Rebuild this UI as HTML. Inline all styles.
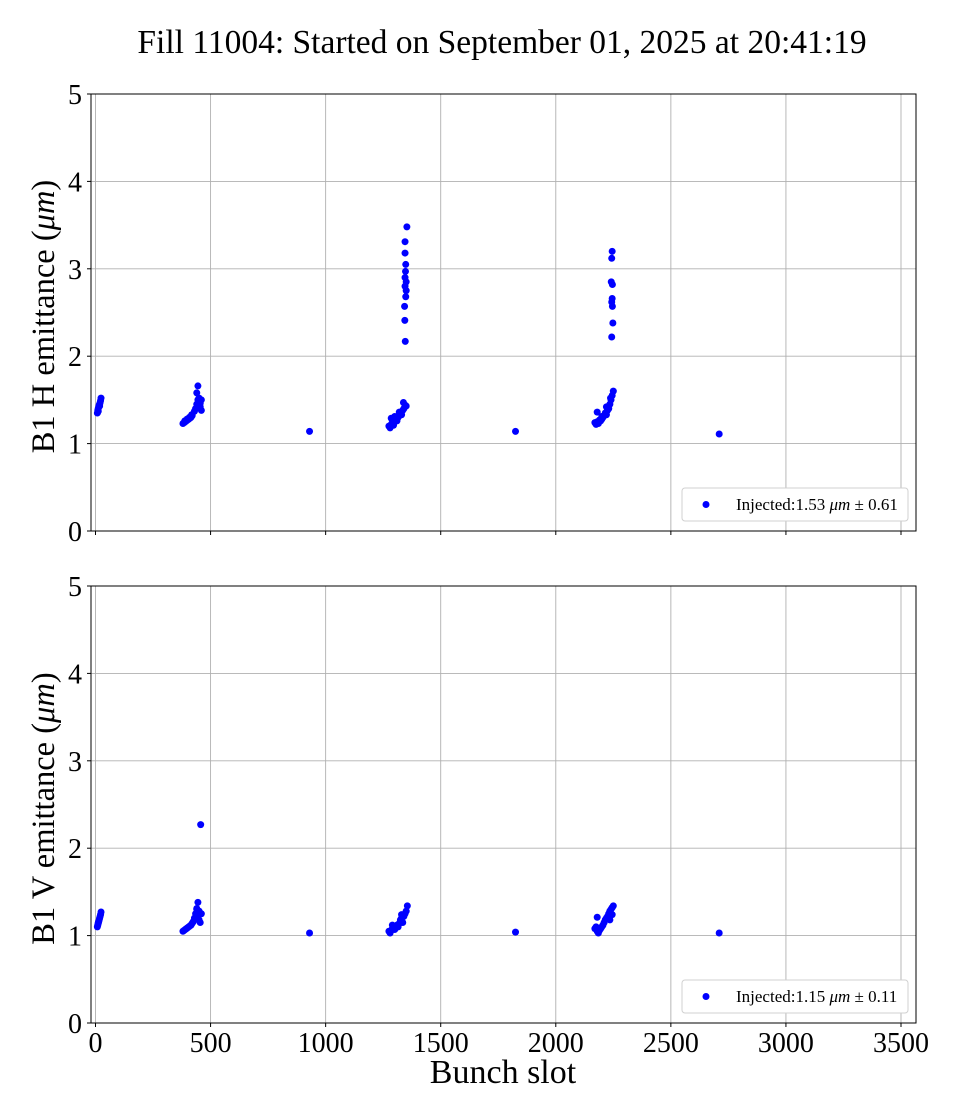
<!DOCTYPE html>
<html><head><meta charset="utf-8"><style>
body{margin:0;background:#fff}
svg{display:block;font-family:"Liberation Serif",serif}
</style></head><body>
<svg id="chart" width="960" height="1120" xmlns="http://www.w3.org/2000/svg">
<text x="502" y="53" font-size="33.5" text-anchor="middle">Fill 11004: Started on September 01, 2025 at 20:41:19</text>
<g id="p1"></g>
<g id="p2"></g>
<text x="503" y="1083" font-size="34" text-anchor="middle">Bunch slot</text>
</svg>
<script>
const xTicks=[0,500,1000,1500,2000,2500,3000,3500];
const yTicks=[0,1,2,3,4,5];
const hSlots=[8,10,12,14,16,18,20,22,24,12,18,
380,385,390,395,400,405,410,415,420,388,398,408,418,430,435,440,445,450,455,460,440,445,450,455,460,
930,
1275,1280,1285,1290,1295,1300,1305,1310,1315,1320,1325,1330,1335,1340,1345,1350,1285,1300,1320,1338,
1353,1345,1345,1348,1347,1345,1350,1345,1350,1348,1343,1344,1346,
1825,
2170,2175,2180,2185,2190,2195,2200,2205,2210,2215,2220,2225,2230,2235,2240,2245,2250,2180,2200,2220,2238,
2245,2243,2241,2246,2245,2243,2246,2248,2243,
2710];
const hVals=[1.35,1.38,1.40,1.42,1.44,1.45,1.47,1.49,1.52,1.37,1.43,
1.23,1.24,1.25,1.26,1.27,1.28,1.29,1.30,1.32,1.26,1.28,1.30,1.33,1.37,1.40,1.45,1.50,1.48,1.42,1.38,1.58,1.66,1.52,1.46,1.50,
1.14,
1.20,1.18,1.22,1.24,1.21,1.25,1.27,1.26,1.30,1.32,1.35,1.33,1.38,1.40,1.44,1.43,1.29,1.31,1.36,1.47,
3.48,3.31,3.18,3.05,2.97,2.90,2.85,2.80,2.75,2.68,2.57,2.41,2.17,
1.14,
1.24,1.22,1.25,1.23,1.27,1.26,1.28,1.30,1.32,1.35,1.33,1.38,1.40,1.45,1.50,1.55,1.60,1.36,1.31,1.42,1.52,
3.20,3.12,2.85,2.82,2.66,2.62,2.57,2.38,2.22,
1.11];
const vSlots=[8,10,12,14,16,18,20,22,24,12,
380,385,390,395,400,405,410,415,420,425,430,435,440,445,450,455,460,440,445,450,457,
930,
1275,1280,1285,1290,1295,1300,1305,1310,1315,1320,1325,1330,1335,1340,1345,1350,1355,1290,1330,
1825,
2170,2175,2180,2185,2190,2195,2200,2205,2210,2215,2220,2225,2230,2235,2240,2245,2250,2180,2235,2245,
2710];
const vVals=[1.10,1.12,1.14,1.16,1.18,1.20,1.22,1.24,1.27,1.15,
1.05,1.06,1.07,1.08,1.09,1.10,1.11,1.12,1.14,1.16,1.20,1.25,1.30,1.22,1.18,1.15,1.25,1.31,1.38,1.28,2.27,
1.03,
1.05,1.03,1.06,1.08,1.10,1.07,1.09,1.12,1.10,1.14,1.18,1.20,1.15,1.22,1.25,1.28,1.34,1.12,1.24,
1.04,
1.08,1.10,1.05,1.03,1.06,1.08,1.10,1.12,1.15,1.18,1.20,1.22,1.25,1.28,1.30,1.32,1.34,1.21,1.18,1.24,
1.03];
const NS="http://www.w3.org/2000/svg";
function mk(p,tag,at){const e=document.createElementNS(NS,tag);for(const k in at)e.setAttribute(k,at[k]);p.appendChild(e);return e;}
const L=91,R=916;
const xs=v=>95.5+v*(901-95.5)/3500;
function panel(g,top,bot,slots,vals,ylab,leg,showX){
  const ys=v=>bot-v*(bot-top)/5;
  xTicks.forEach(t=>{
    const l=mk(g,'line',{x1:xs(t),x2:xs(t),y1:top,y2:bot,stroke:'#b0b0b0','stroke-width':0.9});
    
    
    mk(g,'line',{x1:xs(t),x2:xs(t),y1:bot,y2:bot+4,stroke:'#000','stroke-width':1});
    if(showX){const tx=mk(g,'text',{x:xs(t),y:bot+29,'font-size':28,'text-anchor':'middle'});tx.textContent=t;
      
      }
  });
  yTicks.forEach(t=>{
    const l=mk(g,'line',{x1:L,x2:R,y1:ys(t),y2:ys(t),stroke:'#b0b0b0','stroke-width':0.9});
    
    
    mk(g,'line',{x1:L-4,x2:L,y1:ys(t),y2:ys(t),stroke:'#000','stroke-width':1});
    const tx=mk(g,'text',{x:L-9,y:ys(t)+10,'font-size':28,'text-anchor':'end'});tx.textContent=t;
    
    
  });
  const fr=mk(g,'rect',{x:L,y:top,width:R-L,height:bot-top,fill:'none',stroke:'#000','stroke-width':1});
  
  
  slots.forEach((s,i)=>{
    const c=mk(g,'circle',{cx:xs(s),cy:ys(vals[i]),r:3.5,fill:'#0000ff'});
    
    
  });
  const yl=mk(g,'text',{x:0,y:0,'font-size':32.5,'text-anchor':'middle',transform:`translate(54,${(top+bot)/2+4}) rotate(-90)`});
  yl.innerHTML=ylab;
  
  
  const lg=mk(g,'g',{});
  
  
  mk(lg,'rect',{x:682,y:bot-43,width:226,height:33,rx:3,fill:'#fff',stroke:'#d0d0d0'});
  mk(lg,'circle',{cx:706,cy:bot-26.5,r:3.5,fill:'#0000ff'});
  const lt=mk(lg,'text',{x:736,y:bot-21,'font-size':17});
  lt.innerHTML=leg;
}
panel(document.getElementById('p1'),94,531,hSlots,hVals,'B1 H emittance (<tspan font-style="italic">μm</tspan>)','Injected:1.53 <tspan font-style="italic">μm</tspan> ± 0.61',false);
panel(document.getElementById('p2'),586,1023,vSlots,vVals,'B1 V emittance (<tspan font-style="italic">μm</tspan>)','Injected:1.15 <tspan font-style="italic">μm</tspan> ± 0.11',true);
</script>
</body></html>
